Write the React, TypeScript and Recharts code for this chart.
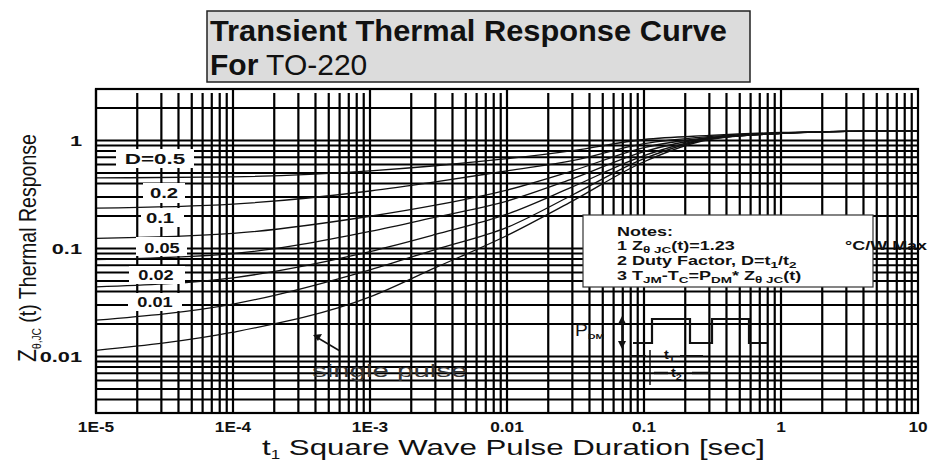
import React from "react";
import { LineChart, Line, XAxis, YAxis, ReferenceLine } from "recharts";

// pulse duration t1 [sec]
const pulseTimes = [1e-5, 1e-4, 1e-3, 3e-3, 1e-2, 3e-2, 0.1, 0.3, 1, 3, 10];

// Z thJC(t) for each duty factor
const duty05 = [0.451, 0.461, 0.524, 0.584, 0.679, 0.806, 1.022, 1.114, 1.188, 1.214, 1.227];
const duty02 = [0.2365, 0.258, 0.341, 0.414, 0.524, 0.65, 0.937, 1.09, 1.175, 1.214, 1.227];
const duty01 = [0.124, 0.138, 0.199, 0.252, 0.348, 0.524, 0.86, 1.067, 1.163, 1.214, 1.227];
const duty005 = [0.0789, 0.0898, 0.144, 0.195, 0.275, 0.442, 0.789, 1.055, 1.163, 1.214, 1.227];
const duty002 = [0.0441, 0.0536, 0.0938, 0.135, 0.208, 0.372, 0.724, 1.044, 1.163, 1.214, 1.227];
const duty001 = [0.0217, 0.0306, 0.0636, 0.0979, 0.157, 0.313, 0.679, 1.033, 1.163, 1.214, 1.227];
const singlePulse = [0.0114, 0.0168, 0.0356, 0.0665, 0.132, 0.275, 0.636, 1.022, 1.163, 1.214, 1.227];

const seriesKeys = ["d05", "d02", "d01", "d005", "d002", "d001", "single"];
const seriesValues = [duty05, duty02, duty01, duty005, duty002, duty001, singlePulse];

const xTicks = [1e-5, 1e-4, 1e-3, 0.01, 0.1, 1, 10];
const xTickLabels = ["1E-5", "1E-4", "1E-3", "0.01", "0.1", "1", "10"];
const yTicks = [0.01, 0.1, 1];
const yTickLabels = ["0.01", "0.1", "1"];

const dutyLabels = ["D=0.5", "0.2", "0.1", "0.05", "0.02", "0.01"];

const data = pulseTimes.map((t, i) => {
  const row: any = { t };
  seriesKeys.forEach((k, j) => (row[k] = seriesValues[j][i]));
  return row;
});

// log grid lines (1..9 per decade)
const mantissas = [1, 2, 3, 4, 5, 6, 7, 8, 9];
const xGridMajor = [1e-5, 1e-4, 1e-3, 1e-2, 0.1, 1];
const xGridMinor: number[] = [];
xGridMajor.forEach((d) => mantissas.slice(1).forEach((m) => xGridMinor.push(+(d * m).toPrecision(3))));
const yGrid: number[] = [];
[1e-3, 1e-2, 0.1, 1].forEach((d) =>
  mantissas.forEach((m) => {
    const v = +(d * m).toPrecision(3);
    if (v > 0.003 && v < 3) yGrid.push(v);
  })
);

const FONT = "'Liberation Sans', Arial, sans-serif";
const INK = "#111";
const GRID = "#000";

// stretched text helper (the source image is widened)
function T({ x, y, sx = 1, children, ...rest }: any) {
  return (
    <text
      transform={`translate(${x} ${y}) scale(${sx} 1)`}
      fontFamily={FONT}
      fill={INK}
      {...rest}
    >
      {children}
    </text>
  );
}

const XTick = ({ x, y, payload }: any) => {
  const i = xTicks.indexOf(payload.value);
  return (
    <T x={x} y={y + 11} sx={1.15} textAnchor="middle" fontSize={15} fontWeight={700}>
      {xTickLabels[i]}
    </T>
  );
};

const YTick = ({ x, y, payload }: any) => {
  const i = yTicks.indexOf(payload.value);
  return (
    <T x={x} y={y + 5} sx={1.45} textAnchor="end" fontSize={15} fontWeight={700}>
      {yTickLabels[i]}
    </T>
  );
};

// label boxes for the duty factor curves
const labelBoxes = [
  { x: 116, y: 149, w: 78, h: 19, cx: 155, by: 164, sx: 1.6 },
  { x: 143, y: 183, w: 42, h: 20, cx: 164, by: 198, sx: 1.45 },
  { x: 141, y: 208, w: 43, h: 19, cx: 160, by: 223, sx: 1.45 },
  { x: 136, y: 237, w: 51, h: 19, cx: 162, by: 253, sx: 1.3 },
  { x: 129, y: 266, w: 56, h: 18, cx: 156, by: 280, sx: 1.3 },
  { x: 128, y: 293, w: 54, h: 18, cx: 155, by: 307, sx: 1.3 },
];

function Overlay() {
  const sub = { fontSize: 9, dy: 3 };
  return (
    <svg
      width={933}
      height={463}
      style={{ position: "absolute", left: 0, top: 0, pointerEvents: "none" }}
    >
      {/* title */}
      <rect x={207} y={11} width={543} height={71} fill="#dcdcdc" stroke="#222" strokeWidth={1.5} />
      <text x={210} y={41} fontFamily={FONT} fontSize={30} fontWeight={700} fill={INK} textLength={517} lengthAdjust="spacingAndGlyphs">
        Transient Thermal Response Curve
      </text>
      <text x={210} y={75} fontFamily={FONT} fontSize={30} fill={INK}>
        <tspan fontWeight={700}>For</tspan> TO-220
      </text>

      {/* plot frame */}
      <rect x={96} y={89} width={822} height={324} fill="none" stroke={GRID} strokeWidth={2.2} />

      {/* duty factor labels */}
      {labelBoxes.map((b, i) => (
        <g key={i}>
          <rect x={b.x} y={b.y} width={b.w} height={b.h} fill="#fff" />
          <T x={b.cx} y={b.by} sx={b.sx} textAnchor="middle" fontSize={14} fontWeight={700}>
            {dutyLabels[i]}
          </T>
        </g>
      ))}

      {/* notes */}
      <rect x={583} y={215} width={290} height={72} fill="#fff" stroke="#333" strokeWidth={1.2} />
      <T x={617} y={236} sx={1.5} fontSize={12} fontWeight={700}>Notes:</T>
      <T x={617} y={250} sx={1.5} fontSize={12} fontWeight={700}>
        1 Z<tspan fontSize={9} dy={3}>θ  JC</tspan>
        <tspan dy={-3}>(t)=1.23</tspan>
      </T>
      <T x={617} y={265} sx={1.5} fontSize={12} fontWeight={700}>
        2 Duty Factor, D=t<tspan {...sub}>1</tspan>
        <tspan dy={-3}>/t</tspan>
        <tspan {...sub}>2</tspan>
      </T>
      <T x={617} y={280} sx={1.5} fontSize={12} fontWeight={700}>
        3 T<tspan {...sub}>JM</tspan>
        <tspan dy={-3}>-T</tspan>
        <tspan {...sub}>C</tspan>
        <tspan dy={-3}>=P</tspan>
        <tspan {...sub}>DM</tspan>
        <tspan dy={-3}>* Z</tspan>
        <tspan {...sub}>θ  JC</tspan>
        <tspan dy={-3}>(t)</tspan>
      </T>
      <T x={845} y={250} sx={1.5} fontSize={12} fontWeight={700}>°C/W Max</T>

      {/* pulse sketch */}
      <T x={575} y={336} sx={1.2} fontSize={16}>P</T>
      <T x={588} y={339} sx={1.3} fontSize={8} fontWeight={700}>DM</T>
      <g stroke={INK} strokeWidth={1.5} fill="none">
        <line x1={622} y1={322} x2={622} y2={343} />
        <polyline points="633,343 652,343 652,319 690,319 690,343 712,343 712,319 749,319 749,343 767,343" strokeWidth={2.2} />
        <line x1={650} y1={350} x2={650} y2={385} />
        <line x1={630} y1={356} x2={646} y2={356} strokeWidth={2} />
        <line x1={680} y1={356} x2={703} y2={356} strokeWidth={2} />
        <line x1={654} y1={373} x2={668} y2={373} strokeWidth={2.5} />
        <line x1={692} y1={373} x2={710} y2={373} strokeWidth={2.5} />
        <line x1={340} y1={351} x2={318} y2={338} />
      </g>
      <g fill={INK}>
        <polygon points="622,316 618,324 626,324" />
        <polygon points="622,349 618,341 626,341" />
        <polygon points="313,335 322,334 318,341" />
      </g>
      <T x={664} y={359} sx={1.2} fontSize={12} fontWeight={700}>
        t<tspan fontSize={9} dy={3}>1</tspan>
      </T>
      <T x={671} y={377} sx={1.2} fontSize={12} fontWeight={700}>
        t<tspan fontSize={9} dy={3}>2</tspan>
      </T>

      {/* single pulse */}
      <T x={312} y={377} sx={1.55} fontSize={19} fill="#333">single pulse</T>

      {/* axis titles */}
      <text
        transform="translate(36 362) rotate(-90) scale(0.85 1)"
        fontFamily={FONT}
        fontSize={23}
        fill={INK}
      >
        <tspan fontSize={25}>Z</tspan>
        <tspan fontSize={12} dy={5}>θ,JC</tspan>
        <tspan dy={-5}> (t) Thermal Response</tspan>
      </text>
      <T x={262} y={455} sx={1.42} fontSize={22}>
        t<tspan fontSize={12} dy={4}>1</tspan>
        <tspan dy={-4}> Square Wave Pulse Duration [sec]</tspan>
      </T>
    </svg>
  );
}

export default function App() {
  return (
    <div style={{ position: "relative", width: 933, height: 463, background: "#fff" }}>
      <style>{"body{margin:0}"}</style>
      <LineChart
        width={933}
        height={463}
        data={data}
        margin={{ top: 89, right: 15, bottom: 30, left: 0 }}
      >
        <XAxis
          dataKey="t"
          type="number"
          scale="log"
          domain={[1e-5, 10]}
          allowDataOverflow
          ticks={xTicks}
          tick={<XTick />}
          tickSize={0}
          tickMargin={8}
          axisLine={false}
          tickLine={false}
          height={20}
          interval={0}
        />
        <YAxis
          type="number"
          scale="log"
          domain={[0.003, 3]}
          allowDataOverflow
          ticks={yTicks}
          tick={<YTick />}
          tickSize={0}
          tickMargin={14}
          axisLine={false}
          tickLine={false}
          width={96}
          interval={0}
        />
        {yGrid.map((v) => (
          <ReferenceLine key={"y" + v} y={v} stroke={GRID} strokeWidth={2} />
        ))}
        {xGridMajor.map((v) => (
          <ReferenceLine key={"xM" + v} x={v} stroke={GRID} strokeWidth={2.2} />
        ))}
        {xGridMinor.map((v) => (
          <ReferenceLine
            key={"xm" + v}
            segment={[
              { x: v, y: 0.003 },
              { x: v, y: 2.75 },
            ]}
            stroke={GRID}
            strokeWidth={2.2}
          />
        ))}
        {seriesKeys.map((k) => (
          <Line
            key={k}
            dataKey={k}
            type="monotone"
            stroke={INK}
            strokeWidth={1.3}
            dot={false}
            isAnimationActive={false}
          />
        ))}
      </LineChart>
      <Overlay />
    </div>
  );
}
